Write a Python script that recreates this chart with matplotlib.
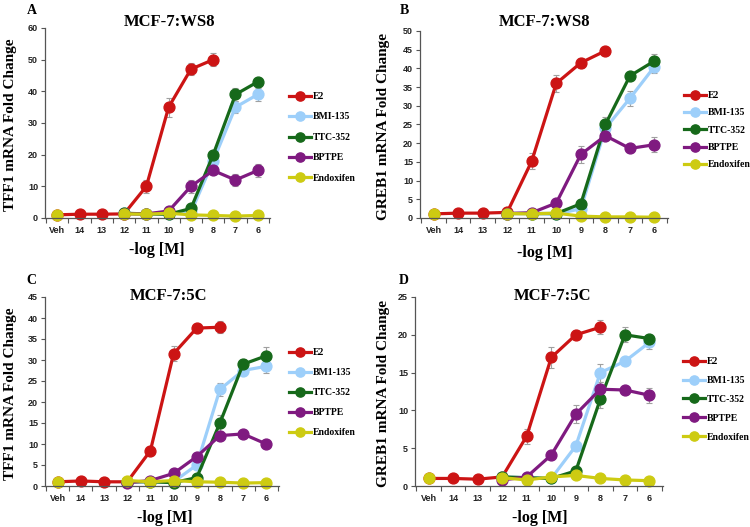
import numpy as np
import matplotlib
matplotlib.use("Agg")
import matplotlib.pyplot as plt

nan = np.nan
categories = ["Veh", "14", "13", "12", "11", "10", "9", "8", "7", "6"]
series_names_ws8 = ["E2", "BMI-135", "TTC-352", "BPTPE", "Endoxifen"]
series_names_5c = ["E2", "BM1-135", "TTC-352", "BPTPE", "Endoxifen"]
colors = ["#CC1414", "#9DCFFA", "#16691A", "#7F1A80", "#CDCB12"]

# Panel A: TFF1, MCF-7:WS8
a_e2   = [1.0, 1.2, 1.2, 1.3, 10.0, 35.0, 47.0, 50.0, nan, nan]
a_bmi  = [nan, nan, nan, 1.5, 1.2, 1.2, 1.8, 18.0, 35.0, 39.0]
a_ttc  = [nan, nan, nan, 1.5, 1.3, 1.2, 3.0, 20.0, 39.0, 43.0]
a_bpt  = [nan, nan, nan, 1.3, 1.3, 2.2, 10.0, 15.0, 12.0, 15.0]
a_endo = [1.0, nan, nan, 1.3, 1.2, 1.5, 1.0, 0.8, 0.6, 0.8]
a_e2_err   = [0, 0, 0, 0, 2.0, 3.0, 2.0, 2.0, 0, 0]
a_bmi_err  = [0, 0, 0, 0, 0, 0, 0, 0, 2.0, 2.0]
a_ttc_err  = [0, 0, 0, 0, 0.5, 0, 0, 0, 2.0, 0]
a_bpt_err  = [0, 0, 0, 0, 0, 0, 2.0, 0, 2.0, 2.0]
a_endo_err = [0, 0, 0, 0, 0, 0, 0, 0, 0, 0]

# Panel B: GREB1, MCF-7:WS8
b_e2   = [1.1, 1.3, 1.3, 1.5, 15.2, 36.0, 41.5, 44.7, nan, nan]
b_bmi  = [nan, nan, nan, 1.2, 1.2, 1.0, 2.5, 24.0, 32.0, 40.5]
b_ttc  = [nan, nan, nan, 1.2, 1.2, 1.2, 3.8, 25.0, 38.0, 42.0]
b_bpt  = [nan, nan, nan, 1.2, 1.4, 4.0, 17.0, 22.0, 18.6, 19.6]
b_endo = [1.1, nan, nan, 1.2, 1.1, 1.3, 0.5, 0.3, 0.3, 0.2]
b_e2_err   = [0, 0, 0, 0, 2.2, 2.3, 1.3, 0, 0, 0]
b_bmi_err  = [0, 0, 0, 0, 0, 0, 0, 0, 2.0, 1.8]
b_ttc_err  = [0, 0, 0, 0, 0, 0, 0, 2.0, 0, 1.8]
b_bpt_err  = [0, 0, 0, 0, 0, 0, 2.2, 0, 0, 2.0]
b_endo_err = [0, 0, 0, 0, 0, 0, 0, 0, 0, 0]

# Panel C: TFF1, MCF-7:5C
c_e2   = [1.0, 1.2, 1.0, 1.0, 8.4, 31.5, 37.6, 37.8, nan, nan]
c_bmi  = [nan, nan, nan, 1.0, 1.0, 1.0, 5.0, 23.0, 27.5, 28.5]
c_ttc  = [nan, nan, nan, 1.0, 1.0, 0.8, 2.0, 15.0, 29.0, 31.0]
c_bpt  = [nan, nan, nan, 0.8, 1.3, 3.0, 7.0, 12.0, 12.4, 10.0]
c_endo = [1.0, nan, nan, 1.3, 1.0, 1.3, 1.0, 0.9, 0.7, 0.8]
c_e2_err   = [0, 0, 0, 0, 0, 1.8, 0, 1.4, 0, 0]
c_bmi_err  = [0, 0, 0, 0, 0, 0, 0, 1.5, 1.0, 1.5]
c_ttc_err  = [0, 0, 0, 0, 0, 0, 0, 2.0, 1.2, 2.0]
c_bpt_err  = [0, 0, 0, 0, 0, 0, 0, 0, 1.0, 0]
c_endo_err = [0, 0, 0, 0, 0, 0, 0, 0, 0, 0]

# Panel D: GREB1, MCF-7:5C
d_e2   = [1.0, 1.0, 0.9, 1.2, 6.6, 17.0, 20.0, 21.0, nan, nan]
d_bmi  = [nan, nan, nan, 1.2, 1.1, 1.0, 5.3, 15.0, 16.5, 19.0]
d_ttc  = [nan, nan, nan, 1.2, 1.1, 1.0, 2.0, 11.5, 20.0, 19.5]
d_bpt  = [nan, nan, nan, 0.8, 1.2, 4.1, 9.5, 12.8, 12.7, 12.0]
d_endo = [1.0, nan, nan, 1.1, 0.8, 1.2, 1.4, 1.0, 0.8, 0.7]
d_e2_err   = [0, 0, 0, 0, 1.0, 1.4, 0.6, 0.9, 0, 0]
d_bmi_err  = [0, 0, 0, 0, 0, 0, 0, 1.2, 0, 0.9]
d_ttc_err  = [0, 0, 0, 0, 0, 0, 0, 1.2, 1.0, 0]
d_bpt_err  = [0, 0, 0, 0, 0, 0, 1.2, 1.0, 0, 1.0]
d_endo_err = [0, 0, 0, 0, 0, 0, 0, 0, 0, 0]

W, H = 750, 527

# layout in pixels: axes box (left, right, top, bottom), title centre, letter centre,
# x-label centre, legend top-left and row spacing
panels = [
    dict(letter="A", title="MCF-7:WS8", ylabel="TFF1 mRNA Fold Change", ymax=60, ystep=10,
         names=series_names_ws8, data=[a_e2, a_bmi, a_ttc, a_bpt, a_endo],
         err=[a_e2_err, a_bmi_err, a_ttc_err, a_bpt_err, a_endo_err],
         box=(45, 270, 28, 218), tpos=(170, 22), lpos=(32, 10), xlpos=(157, 250),
         ylx=11, leg=(289, 92), lsp=1.18),
    dict(letter="B", title="MCF-7:WS8", ylabel="GREB1 mRNA Fold Change", ymax=50, ystep=5,
         names=series_names_ws8, data=[b_e2, b_bmi, b_ttc, b_bpt, b_endo],
         err=[b_e2_err, b_bmi_err, b_ttc_err, b_bpt_err, b_endo_err],
         box=(420, 668, 31, 218), tpos=(545, 22), lpos=(404, 10), xlpos=(545, 253),
         ylx=384, leg=(684, 91), lsp=0.86),
    dict(letter="C", title="MCF-7:5C", ylabel="TFF1 mRNA Fold Change", ymax=45, ystep=5,
         names=series_names_5c, data=[c_e2, c_bmi, c_ttc, c_bpt, c_endo],
         err=[c_e2_err, c_bmi_err, c_ttc_err, c_bpt_err, c_endo_err],
         box=(45, 279, 297, 486), tpos=(169, 296), lpos=(31, 281), xlpos=(165, 518),
         ylx=11, leg=(289, 348), lsp=1.14),
    dict(letter="D", title="MCF-7:5C", ylabel="GREB1 mRNA Fold Change", ymax=25, ystep=5,
         names=series_names_5c, data=[d_e2, d_bmi, d_ttc, d_bpt, d_endo],
         err=[d_e2_err, d_bmi_err, d_ttc_err, d_bpt_err, d_endo_err],
         box=(415, 663, 297, 486), tpos=(553, 296), lpos=(404, 280), xlpos=(540, 518),
         ylx=384, leg=(683, 357), lsp=1.02),
]

serif = "Liberation Serif"
sans = "Liberation Sans"

fig = plt.figure(figsize=(W / 100, H / 100), dpi=100)
x = np.arange(len(categories))


def fx(px):
    return px / W


def fy(py):
    return 1 - py / H


for p in panels:
    l, r, t, b = p["box"]
    ax = fig.add_axes([fx(l), fy(b), (r - l) / W, (b - t) / H])
    handles = []
    for name, vals, err, col in zip(p["names"], p["data"], p["err"], colors):
        vals = np.array(vals, dtype=float)
        err = np.array(err, dtype=float)
        ax.errorbar(x, vals, yerr=err, fmt="none", ecolor="#A0A0A0",
                    elinewidth=0.8, capsize=2.5, capthick=0.8, zorder=1)
        h, = ax.plot(x, vals, color=col, lw=2.3, marker="o", ms=7.8,
                     label=name, zorder=2, clip_on=False)
        handles.append(h)
    ax.set_xlim(-0.55, 9.55)
    ax.set_ylim(0, p["ymax"])
    ax.set_yticks(np.arange(0, p["ymax"] + 0.1, p["ystep"]))
    ax.set_xticks(x)
    ax.set_xticklabels(categories)
    ax.set_xticks(np.arange(-0.5, 9.6, 1.0), minor=True)
    ax.tick_params(axis="x", which="major", length=0, pad=6)
    ax.tick_params(axis="x", which="minor", length=3.5, width=0.8, color="#555555", direction="out")
    ax.tick_params(axis="y", length=3, width=0.8, color="#555555", direction="out", pad=2)
    for lab in ax.get_xticklabels() + ax.get_yticklabels():
        lab.set_fontfamily(sans)
        lab.set_fontweight("bold")
        lab.set_fontsize(6.5)
        lab.set_color("#222222")
    for s in ["top", "right"]:
        ax.spines[s].set_visible(False)
    for s in ["left", "bottom"]:
        ax.spines[s].set_color("#555555")
        ax.spines[s].set_linewidth(0.9)

    fig.text(fx(p["xlpos"][0]), fy(p["xlpos"][1]), "-log [M]", fontfamily=serif,
             fontweight="bold", fontsize=11.5, ha="center", va="center")
    fig.text(fx(p["ylx"]), fy((t + b) / 2 + 2), p["ylabel"], fontfamily=serif,
             fontweight="bold", fontsize=11, ha="center", va="center", rotation=90)
    fig.text(fx(p["tpos"][0]), fy(p["tpos"][1]), p["title"], fontfamily=serif,
             fontweight="bold", fontsize=12, ha="center", va="center")
    fig.text(fx(p["lpos"][0]), fy(p["lpos"][1]), p["letter"], fontfamily=serif,
             fontweight="bold", fontsize=10, ha="center", va="center")
    fig.legend(handles=handles, loc="upper left", bbox_to_anchor=(fx(p["leg"][0]), fy(p["leg"][1])),
               frameon=False, handlelength=2.3, handletextpad=0.15, labelspacing=p["lsp"],
               borderaxespad=0, borderpad=0, markerscale=0.85,
               prop=dict(family=serif, weight="bold", size=7))

fig.savefig("out.png", dpi=100, facecolor="white")
